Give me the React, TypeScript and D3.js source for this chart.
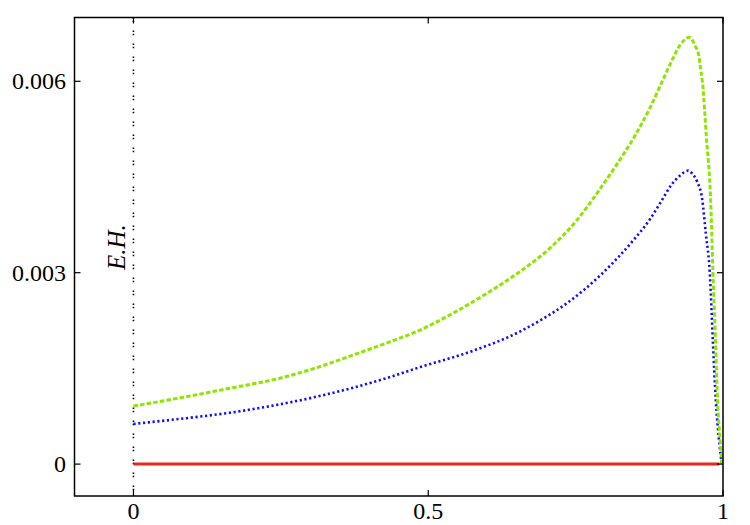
import React from 'react';
import * as d3 from 'd3';

// x positions and values
const greenX = [0, 0.08, 0.164, 0.25, 0.317, 0.373, 0.43, 0.486, 0.543, 0.6, 0.656, 0.707, 0.75, 0.792, 0.82, 0.849, 0.86, 0.877, 0.894, 0.912, 0.928, 0.943, 0.953, 0.959, 0.962, 0.965, 0.972, 0.979, 0.983, 0.987, 0.9907, 0.995, 0.998];
const greenY = [0.00091, 0.00104, 0.00119, 0.00135, 0.00153, 0.00171, 0.0019, 0.0021, 0.00237, 0.00268, 0.00302, 0.00339, 0.0038, 0.00432, 0.0047, 0.00512, 0.0053, 0.0056, 0.00594, 0.0063, 0.00658, 0.00669, 0.00655, 0.0064, 0.00619, 0.0060, 0.0051, 0.00415, 0.0030, 0.0020, 0.0010, 0.0004, 0];

const blueX = [0, 0.08, 0.164, 0.25, 0.317, 0.43, 0.486, 0.571, 0.656, 0.695, 0.735, 0.792, 0.82, 0.849, 0.877, 0.894, 0.912, 0.928, 0.941, 0.948, 0.956, 0.9647, 0.971, 0.9776, 0.9827, 0.9878, 0.993, 0.998];
const blueY = [0.00063, 0.00071, 0.000806, 0.00094, 0.00107, 0.00135, 0.00152, 0.00176, 0.00208, 0.00228, 0.00252, 0.00296, 0.00322, 0.00352, 0.00385, 0.0041, 0.00437, 0.00453, 0.0046, 0.00455, 0.00443, 0.00415, 0.0036, 0.0030, 0.00195, 0.0010, 0.0004, 0];

const redX = [0, 0.994];
const redY = [0, 0];

const xTicks = [0, 0.5, 1];
const xTickLabels = ['0', '0.5', '1'];
const yTicks = [0, 0.003, 0.006];
const yTickLabels = ['0', '0.003', '0.006'];

const horizonX = 0;

const W = 750;
const H = 525;
const left = 74.5, right = 723, top = 17.5, bottom = 496;

export default function App() {
  const x = d3.scaleLinear().domain([-0.1, 1]).range([left, right]);
  const y = d3.scaleLinear().domain([-0.0005, 0.007]).range([bottom, top]);

  const line = d3.line<[number, number]>()
    .x(d => x(d[0]))
    .y(d => y(d[1]))
    .curve(d3.curveMonotoneX);

  const zip = (xs: number[], ys: number[]) => xs.map((v, i) => [v, ys[i]] as [number, number]);

  const font = '"Times New Roman", Times, "Liberation Serif", "Nimbus Roman", serif';
  const tick = 6;

  return (
    <svg width={W} height={H} style={{ position: 'absolute', left: 0, top: 0, background: '#fff' }}>
      {/* event horizon */}
      <line x1={x(horizonX)} x2={x(horizonX)} y1={top} y2={bottom}
        stroke="#000" strokeWidth={1.6} strokeDasharray="1.5 1.8 1.5 8.2" />
      <text transform={`translate(${x(horizonX) - 8},${y(0.0034)}) rotate(-90)`}
        fontFamily={font} fontStyle="italic" fontSize={25} textAnchor="middle">E.H.</text>

      <path d={line(zip(redX, redY)) || ''} fill="none" stroke="#e8261c" strokeWidth={3} />
      <path d={line(zip(blueX, blueY)) || ''} fill="none" stroke="#1010ff" strokeWidth={2.6} strokeDasharray="2.2 2.6" />
      <path d={line(zip(greenX, greenY)) || ''} fill="none" stroke="#8ee600" strokeWidth={3} strokeDasharray="4.5 2.2" />

      {/* frame */}
      <rect x={left} y={top} width={right - left} height={bottom - top} fill="none" stroke="#000" strokeWidth={1.5} />

      {xTicks.map((t, i) => (
        <g key={'x' + t}>
          <line x1={x(t)} x2={x(t)} y1={bottom} y2={bottom - tick} stroke="#000" strokeWidth={1.2} />
          <line x1={x(t)} x2={x(t)} y1={top} y2={top + tick} stroke="#000" strokeWidth={1.2} />
          <text x={x(t)} y={519} fontFamily={font} fontSize={24} textAnchor="middle">{xTickLabels[i]}</text>
        </g>
      ))}
      {yTicks.map((t, i) => (
        <g key={'y' + t}>
          <line x1={left} x2={left + tick} y1={y(t)} y2={y(t)} stroke="#000" strokeWidth={1.2} />
          <line x1={right} x2={right - tick} y1={y(t)} y2={y(t)} stroke="#000" strokeWidth={1.2} />
          <text x={66} y={y(t) + 8} fontFamily={font} fontSize={24} textAnchor="end">{yTickLabels[i]}</text>
        </g>
      ))}
    </svg>
  );
}
